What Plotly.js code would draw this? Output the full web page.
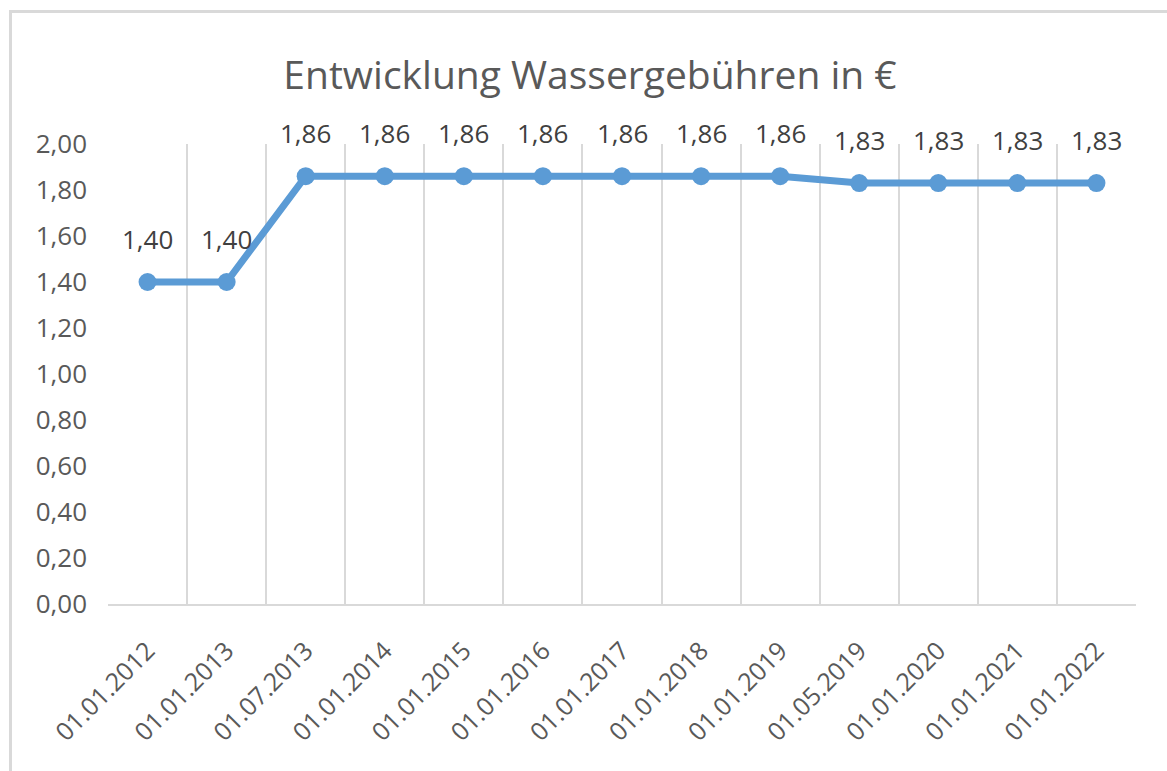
<!DOCTYPE html>
<html>
<head>
<meta charset="utf-8">
<script src="https://cdn.plot.ly/plotly-3.0.1.min.js"></script>
<style>
html,body{margin:0;padding:0;background:#fff;overflow:hidden;}
#wrap{position:relative;width:1167px;height:771px;}
#chart{position:absolute;left:0;top:0;width:1167px;height:771px;}
#frame{position:absolute;left:9px;top:10px;width:1200px;height:800px;border:3px solid #d9d9d9;pointer-events:none;}
</style>
</head>
<body>
<div id="wrap"><div id="chart"></div><div id="frame"></div></div>
<script>
const dates = ["01.01.2012","01.01.2013","01.07.2013","01.01.2014","01.01.2015","01.01.2016","01.01.2017","01.01.2018","01.01.2019","01.05.2019","01.01.2020","01.01.2021","01.01.2022"];
const prices = [1.40,1.40,1.86,1.86,1.86,1.86,1.86,1.86,1.86,1.83,1.83,1.83,1.83];
const yTicks = [0,0.2,0.4,0.6,0.8,1.0,1.2,1.4,1.6,1.8,2.0];

const fontFam = "Open Sans, sans-serif";
const fmt = v => v.toFixed(2).replace('.', ',');

const trace = {
  x: dates, y: prices, type: 'scatter', mode: 'lines+markers',
  line: {color: '#5b9bd5', width: 7},
  marker: {color: '#5b9bd5', size: 18},
  hoverinfo: 'none'
};

const annotations = dates.map((d, i) => ({
  x: d, y: prices[i], xref: 'x', yref: 'y',
  text: fmt(prices[i]), showarrow: false,
  yanchor: 'middle', yshift: 43,
  font: {family: fontFam, size: 26, color: '#404040'}
}));

const layout = {
  width: 1167, height: 771,
  margin: {l: 108, r: 31, t: 144, b: 167},
  paper_bgcolor: 'rgba(0,0,0,0)', plot_bgcolor: 'rgba(0,0,0,0)',
  separators: ',.',
  showlegend: false,
  title: {
    text: 'Entwicklung Wassergebühren in €',
    x: 590/1167, xref: 'container', xanchor: 'center',
    y: 1 - 75/771, yref: 'container', yanchor: 'middle',
    font: {family: fontFam, size: 39, color: '#595959'}
  },
  xaxis: {
    type: 'category', tickson: 'boundaries',
    showgrid: true, gridcolor: '#d9d9d9', gridwidth: 2,
    showline: true, linecolor: '#d9d9d9', linewidth: 2,
    ticks: '', tickangle: -45, ticklabelstandoff: 20,
    tickfont: {family: fontFam, size: 25, color: '#595959'},
    range: [-0.5, dates.length - 0.5], fixedrange: true
  },
  yaxis: {
    range: [0, 2], tickvals: yTicks, ticktext: yTicks.map(fmt),
    showgrid: false, zeroline: false, showline: false, ticks: '',
    ticklabelstandoff: 20,
    tickfont: {family: fontFam, size: 26, color: '#595959'},
    fixedrange: true
  },
  annotations: annotations
};

Plotly.newPlot('chart', [trace], layout, {displayModeBar: false, staticPlot: true});
</script>
</body>
</html>
